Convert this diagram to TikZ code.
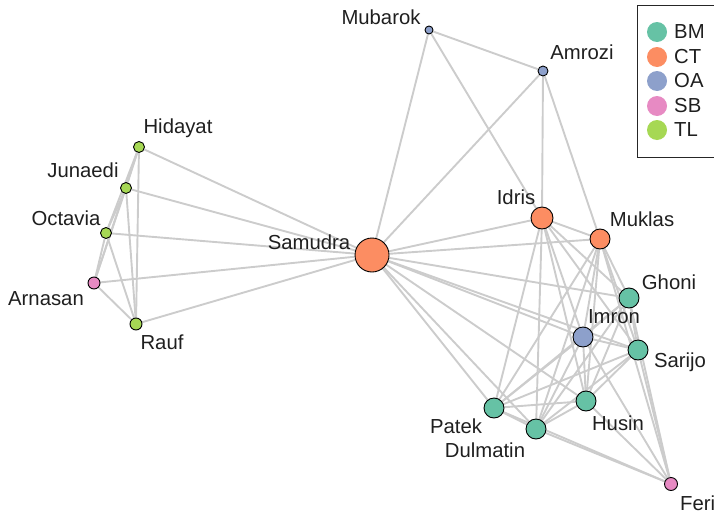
\documentclass[tikz,border=0pt]{standalone}
\usepackage{fontspec}
\setmainfont{Liberation Sans}
\usetikzlibrary{backgrounds}
\definecolor{cBM}{HTML}{66C2A5}
\definecolor{cCT}{HTML}{FC8D62}
\definecolor{cOA}{HTML}{8DA0CB}
\definecolor{cSB}{HTML}{E78AC3}
\definecolor{cTL}{HTML}{A6D854}
\definecolor{edgegray}{HTML}{CCCCCC}
\tikzset{
  vtx/.style={circle, draw=black, line width=0.9pt, inner sep=0pt, minimum size=#1},
  lab/.style={inner sep=0pt, font=\fontsize{20.3}{23}\selectfont, text=black!88},
  edge/.style={draw=edgegray, line width=1.9pt},
  legdot/.style={circle, inner sep=0pt, minimum size=20pt},
  legtxt/.style={inner sep=0pt, anchor=west, font=\fontsize{20.3}{23}\selectfont, text=black!88}
}
\begin{document}
\begin{tikzpicture}[x=1pt,y=-1pt]
\useasboundingbox (0,0) rectangle (714,514);
% nodes
\node[vtx=8pt, fill=cOA] (Mub) at (429,30) {};
\node[vtx=10pt, fill=cOA] (Amr) at (543,71) {};
\node[vtx=11pt, fill=cTL] (Hid) at (139,147) {};
\node[vtx=11pt, fill=cTL] (Jun) at (126,188) {};
\node[vtx=11pt, fill=cTL] (Oct) at (106,233) {};
\node[vtx=12pt, fill=cSB] (Arn) at (94,283) {};
\node[vtx=12pt, fill=cTL] (Rau) at (136,324) {};
\node[vtx=34pt, fill=cCT] (Sam) at (372,255) {};
\node[vtx=22pt, fill=cCT] (Idr) at (542,218) {};
\node[vtx=20pt, fill=cCT] (Muk) at (600,239) {};
\node[vtx=20pt, fill=cBM] (Gho) at (629,298) {};
\node[vtx=20pt, fill=cOA] (Imr) at (583,337) {};
\node[vtx=20pt, fill=cBM] (Sar) at (638,350) {};
\node[vtx=20pt, fill=cBM] (Hus) at (586,401) {};
\node[vtx=20pt, fill=cBM] (Pat) at (494,408) {};
\node[vtx=20pt, fill=cBM] (Dul) at (536,429) {};
\node[vtx=13pt, fill=cSB] (Fer) at (671,484) {};
% labels
\node[lab] (lMub) at (381,17) {Mubarok};
\node[lab] (lAmr) at (582,52) {Amrozi};
\node[lab] (lHid) at (178,128) {Hidayat};
\node[lab] (lJun) at (83,170) {Junaedi};
\node[lab] (lOct) at (66,218) {Octavia};
\node[lab] (lArn) at (46,299) {Arnasan};
\node[lab] (lRau) at (162,342) {Rauf};
\node[lab] (lSam) at (309,242) {Samudra};
\node[lab] (lIdr) at (516,197) {Idris};
\node[lab] (lMuk) at (642,219) {Muklas};
\node[lab] (lGho) at (669,282) {Ghoni};
\node[lab] (lImr) at (614,317) {Imron};
\node[lab] (lSar) at (680,362) {Sarijo};
\node[lab] (lHus) at (618,423) {Husin};
\node[lab] (lPat) at (456,426) {Patek};
\node[lab] (lDul) at (485,450) {Dulmatin};
\node[lab, anchor=west] (lFer) at (680,503) {Feri};
% legend
\node[draw=black!85, line width=1pt, minimum width=90pt, minimum height=152pt, inner sep=0pt, anchor=north west, fill=white] (leg) at (637,5) {};
\node[legdot, fill=cBM] (dBM) at (657,32) {};
\node[legdot, fill=cCT] (dCT) at (657,57) {};
\node[legdot, fill=cOA] (dOA) at (657,81) {};
\node[legdot, fill=cSB] (dSB) at (657,106) {};
\node[legdot, fill=cTL] (dTL) at (657,130) {};
\node[legtxt] (tBM) at (674,32) {BM};
\node[legtxt] (tCT) at (674,57) {CT};
\node[legtxt] (tOA) at (674,81) {OA};
\node[legtxt] (tSB) at (674,106) {SB};
\node[legtxt] (tTL) at (674,130) {TL};
% edges
\begin{pgfonlayer}{background}
\foreach \a/\b in {Hid/Jun,Hid/Oct,Hid/Arn,Hid/Rau,Jun/Oct,Jun/Arn,Jun/Rau,Oct/Arn,Oct/Rau,Arn/Rau,
  Hid/Sam,Jun/Sam,Oct/Sam,Arn/Sam,Rau/Sam,
  Mub/Amr,Mub/Sam,Mub/Idr,Amr/Sam,Amr/Idr,Amr/Muk,
  Sam/Idr,Sam/Muk,Sam/Gho,Sam/Imr,Sam/Sar,Sam/Hus,Sam/Pat,Sam/Dul,
  Idr/Muk,Idr/Gho,Idr/Imr,Idr/Sar,Idr/Hus,Idr/Pat,Idr/Dul,
  Muk/Gho,Muk/Imr,Muk/Sar,Muk/Hus,Muk/Pat,Muk/Dul,
  Gho/Imr,Gho/Sar,Gho/Hus,Gho/Pat,Gho/Dul,
  Imr/Sar,Imr/Hus,Imr/Pat,Imr/Dul,
  Sar/Hus,Sar/Pat,Sar/Dul,
  Hus/Pat,Hus/Dul,Pat/Dul,
  Fer/Pat,Fer/Dul,Fer/Hus,Fer/Imr,Fer/Sar,Fer/Gho,Fer/Muk}
  \draw[edge] (\a) -- (\b);
\end{pgfonlayer}
\end{tikzpicture}
\end{document}
